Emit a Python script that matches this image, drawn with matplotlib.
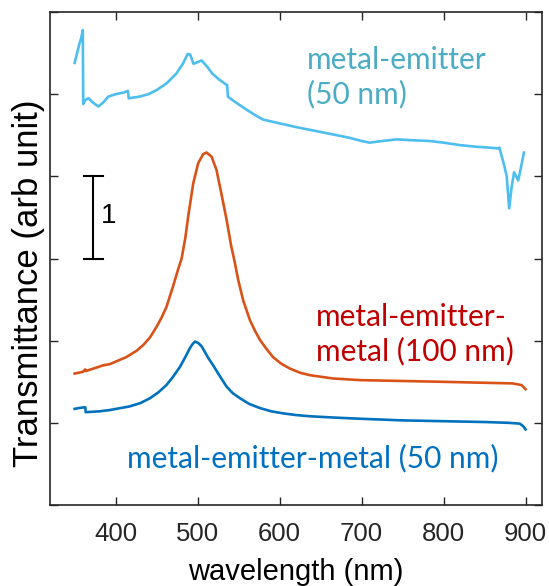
import numpy as np
import matplotlib
matplotlib.use("Agg")
import matplotlib.pyplot as plt

# metal-emitter (50 nm), light blue, top curve
me50_nm = [350, 353, 356, 358, 360, 360.5, 363, 367, 372, 379, 385, 391, 400, 410,
           415, 416, 429, 440, 450, 462, 474, 482, 488, 491, 495, 500, 505, 512,
           518, 526, 533, 536, 537, 545, 551, 560, 571, 580, 600, 620,
           640, 660, 685, 700, 710, 725, 743, 760, 783, 800, 820, 840, 855, 866,
           868, 874, 877, 880, 883, 886, 891, 894, 898]
me50_T = [5.38, 5.50, 5.62, 5.68, 5.78, 4.88, 4.93, 4.95, 4.90, 4.85, 4.90, 4.97, 5.00, 5.02,
          5.04, 4.95, 4.97, 5.00, 5.05, 5.13, 5.25, 5.37, 5.49, 5.48, 5.37, 5.39, 5.41, 5.33,
          5.25, 5.18, 5.13, 5.11, 4.97, 4.91, 4.87, 4.81, 4.74, 4.69, 4.645, 4.60,
          4.56, 4.52, 4.47, 4.43, 4.41, 4.43, 4.45, 4.44, 4.43, 4.41, 4.38, 4.36, 4.35, 4.34,
          4.35, 4.13, 4.00, 3.61, 3.87, 4.05, 3.95, 4.09, 4.29]

# metal-emitter-metal (100 nm), orange
mem100_nm = [350, 360, 363, 363.5, 385, 393, 413, 426, 434, 442, 450, 456, 462, 470,
             476, 480.5, 485, 488.5, 494.6, 500.7, 506.8, 511, 517, 523, 529, 535.4,
             541, 545, 549.5, 555.6, 563.8, 570, 576, 584, 592, 602, 612.6, 625, 637,
             665, 698, 796, 884, 895, 900]
mem100_T = [1.60, 1.62, 1.65, 1.63, 1.70, 1.715, 1.80, 1.88, 1.95, 2.04, 2.17, 2.28, 2.41, 2.66,
            2.86, 3.00, 3.25, 3.51, 3.91, 4.16, 4.27, 4.29, 4.24, 4.08, 3.79, 3.47,
            3.15, 2.97, 2.74, 2.49, 2.25, 2.12, 2.01, 1.90, 1.80, 1.72, 1.66, 1.61, 1.58,
            1.54, 1.52, 1.50, 1.48, 1.46, 1.41]

# metal-emitter-metal (50 nm), blue
mem50_nm = [350, 355, 363, 363.5, 380, 393, 417, 430, 442, 452, 462, 470, 478.4, 485,
            490.6, 494, 497, 501, 505, 509, 513, 519, 527, 535.4, 543, 551.6, 563,
            576, 590, 604.6, 620, 637, 665, 698, 750, 800, 850, 880, 893, 897, 900]
mem50_T = [1.17, 1.18, 1.19, 1.13, 1.14, 1.156, 1.20, 1.24, 1.30, 1.37, 1.46, 1.56, 1.68, 1.80,
           1.91, 1.96, 1.99, 1.97, 1.93, 1.86, 1.79, 1.70, 1.57, 1.44, 1.36, 1.30, 1.23,
           1.18, 1.14, 1.115, 1.095, 1.08, 1.065, 1.05, 1.03, 1.02, 1.01, 1.00, 0.99, 0.96, 0.92]

xticks = [400, 500, 600, 700, 800, 900]

AX_COL = '#262626'
LBL_FONT = ['Liberation Sans', 'DejaVu Sans']
ANN_FONT = ['Lato', 'DejaVu Sans']

fig = plt.figure(figsize=(5.49, 5.86), dpi=100)
ax = fig.add_axes([0.0911, 0.1382, 0.8961, 0.8413])

ax.plot(me50_nm, me50_T, color='#4DBEEE', lw=1.9)
ax.plot(mem100_nm, mem100_T, color='#D95319', lw=1.9)
ax.plot(mem50_nm, mem50_T, color='#0072BD', lw=1.9)

# scale bar of 1 unit
bar_x, bar_lo, bar_hi, cap = 372.7, 3.0, 4.0, 11.5
ax.plot([bar_x, bar_x], [bar_lo, bar_hi], color='k', lw=1.5)
ax.plot([bar_x - cap, bar_x + cap], [bar_lo, bar_lo], color='k', lw=1.5)
ax.plot([bar_x - cap, bar_x + cap], [bar_hi, bar_hi], color='k', lw=1.5)
ax.text(bar_x + 9, 3.52, '1', fontsize=20, family=LBL_FONT, color='k',
        ha='left', va='center')

ax.text(633, 5.21, 'metal-emitter\n(50 nm)', color='#4BACC6', fontsize=21.5,
        family=ANN_FONT, ha='left', va='center', linespacing=1.25)
ax.text(644, 2.075, 'metal-emitter-\nmetal (100 nm)', color='#C00000', fontsize=21.5,
        family=ANN_FONT, ha='left', va='center', linespacing=1.25)
ax.text(413.8, 0.57, 'metal-emitter-metal (50 nm)', color='#0070C0', fontsize=21.5,
        family=ANN_FONT, ha='left', va='center')

ax.set_xlim(320, 920)
ax.set_ylim(0, 6)
ax.set_xticks(xticks)
ax.set_yticks(np.arange(0, 7))
ax.set_yticklabels([])
ax.tick_params(direction='in', length=6, width=1.0, top=True, right=True,
               colors=AX_COL, labelsize=18.5, pad=12)
for lab in ax.get_xticklabels():
    lab.set_family(LBL_FONT)
for s in ax.spines.values():
    s.set_color(AX_COL)
    s.set_linewidth(1.2)

ax.set_xlabel('wavelength (nm)', fontsize=21, family=LBL_FONT, color='k', labelpad=9)
ax.set_ylabel('Transmittance (arb unit)', fontsize=25, family=LBL_FONT, color='k')
ax.yaxis.set_label_coords(-0.0447, 0.45)
ax.yaxis.label.set_va('center')

fig.savefig('out.png', dpi=100)
